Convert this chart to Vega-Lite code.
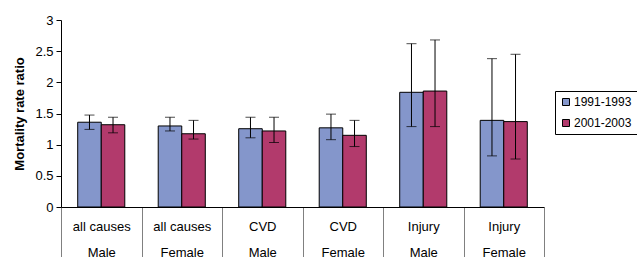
{
  "$schema": "https://vega.github.io/schema/vega-lite/v6.json",
  "width": 483,
  "height": 187,
  "autosize": "none",
  "padding": {"left": 61, "top": 20, "right": 93, "bottom": 50},
  "background": "white",
  "config": {
    "view": {"stroke": null},
    "font": "Liberation Sans",
    "axis": {"grid": false, "labelFont": "Liberation Sans", "titleFont": "Liberation Sans", "labelColor": "#000", "titleColor": "#000"}
  },
  "data": {
    "values": [
      {"cat": "all causes|Male", "period": "1991-1993", "rate": 1.36, "lo": 1.245, "hi": 1.475},
      {"cat": "all causes|Male", "period": "2001-2003", "rate": 1.32, "lo": 1.19, "hi": 1.44},
      {"cat": "all causes|Female", "period": "1991-1993", "rate": 1.30, "lo": 1.22, "hi": 1.44},
      {"cat": "all causes|Female", "period": "2001-2003", "rate": 1.175, "lo": 1.09, "hi": 1.39},
      {"cat": "CVD|Male", "period": "1991-1993", "rate": 1.256, "lo": 1.11, "hi": 1.44},
      {"cat": "CVD|Male", "period": "2001-2003", "rate": 1.22, "lo": 1.035, "hi": 1.44},
      {"cat": "CVD|Female", "period": "1991-1993", "rate": 1.27, "lo": 1.08, "hi": 1.49},
      {"cat": "CVD|Female", "period": "2001-2003", "rate": 1.15, "lo": 0.97, "hi": 1.39},
      {"cat": "Injury|Male", "period": "1991-1993", "rate": 1.84, "lo": 1.29, "hi": 2.62},
      {"cat": "Injury|Male", "period": "2001-2003", "rate": 1.86, "lo": 1.29, "hi": 2.68},
      {"cat": "Injury|Female", "period": "1991-1993", "rate": 1.39, "lo": 0.82, "hi": 2.38},
      {"cat": "Injury|Female", "period": "2001-2003", "rate": 1.37, "lo": 0.77, "hi": 2.45}
    ]
  },
  "encoding": {
    "x": {
      "field": "cat", "type": "nominal", "sort": null,
      "scale": {"paddingInner": 0, "paddingOuter": 0},
      "axis": {
        "title": null, "labelAngle": 0, "labelExpr": "split(datum.label, '|')",
        "labelFontSize": 13, "labelLineHeight": 26, "labelBaseline": "top",
        "tickBand": "extent", "tickSize": 55, "tickColor": "#808080", "tickWidth": 1,
        "labelPadding": -42, "domainColor": "#000", "domainWidth": 1
      }
    },
    "xOffset": {"field": "period", "type": "nominal", "scale": {"paddingOuter": 0.71, "paddingInner": 0}}
  },
  "layer": [
    {
      "mark": {"type": "bar", "stroke": "#000", "strokeWidth": 1},
      "encoding": {
        "y": {
          "field": "rate", "type": "quantitative",
          "scale": {"domain": [0, 3]},
          "axis": {
            "title": "Mortality rate ratio", "titleFontSize": 13, "titleFontWeight": "bold", "titlePadding": 8,
            "values": [0, 0.5, 1, 1.5, 2, 2.5, 3], "format": "~g", "labelOverlap": false, "labelFontSize": 13, "tickSize": 5, "tickColor": "#000",
            "domainColor": "#000", "labelPadding": 3
          }
        },
        "color": {
          "field": "period", "type": "nominal",
          "scale": {"domain": ["1991-1993", "2001-2003"], "range": ["#8496CB", "#B23A6C"]},
          "legend": {
            "title": null, "orient": "none", "legendX": 494, "legendY": 71,
            "strokeColor": "#000", "padding": 5, "symbolType": "square", "symbolSize": 49,
            "symbolStrokeColor": "#000", "symbolStrokeWidth": 1, "labelFontSize": 12, "rowPadding": 9,
            "labelFont": "Liberation Sans", "labelColor": "#000", "fillColor": "white", "labelOffset": 2
          }
        }
      }
    },
    {
      "mark": {"type": "rule", "color": "#000", "strokeWidth": 1},
      "encoding": {
        "y": {"field": "lo", "type": "quantitative",
          "axis": {
            "title": "Mortality rate ratio", "titleFontSize": 13, "titleFontWeight": "bold", "titlePadding": 8,
            "values": [0, 0.5, 1, 1.5, 2, 2.5, 3], "format": "~g", "labelOverlap": false, "labelFontSize": 13, "tickSize": 5, "tickColor": "#000",
            "domainColor": "#000", "labelPadding": 3
          }},
        "y2": {"field": "hi"}
      }
    },
    {
      "mark": {"type": "tick", "color": "#000", "size": 10, "thickness": 1},
      "encoding": {"y": {"field": "lo", "type": "quantitative",
          "axis": {
            "title": "Mortality rate ratio", "titleFontSize": 13, "titleFontWeight": "bold", "titlePadding": 8,
            "values": [0, 0.5, 1, 1.5, 2, 2.5, 3], "format": "~g", "labelOverlap": false, "labelFontSize": 13, "tickSize": 5, "tickColor": "#000",
            "domainColor": "#000", "labelPadding": 3
          }}}
    },
    {
      "mark": {"type": "tick", "color": "#000", "size": 10, "thickness": 1},
      "encoding": {"y": {"field": "hi", "type": "quantitative",
          "axis": {
            "title": "Mortality rate ratio", "titleFontSize": 13, "titleFontWeight": "bold", "titlePadding": 8,
            "values": [0, 0.5, 1, 1.5, 2, 2.5, 3], "format": "~g", "labelOverlap": false, "labelFontSize": 13, "tickSize": 5, "tickColor": "#000",
            "domainColor": "#000", "labelPadding": 3
          }}}
    }
  ]
}
